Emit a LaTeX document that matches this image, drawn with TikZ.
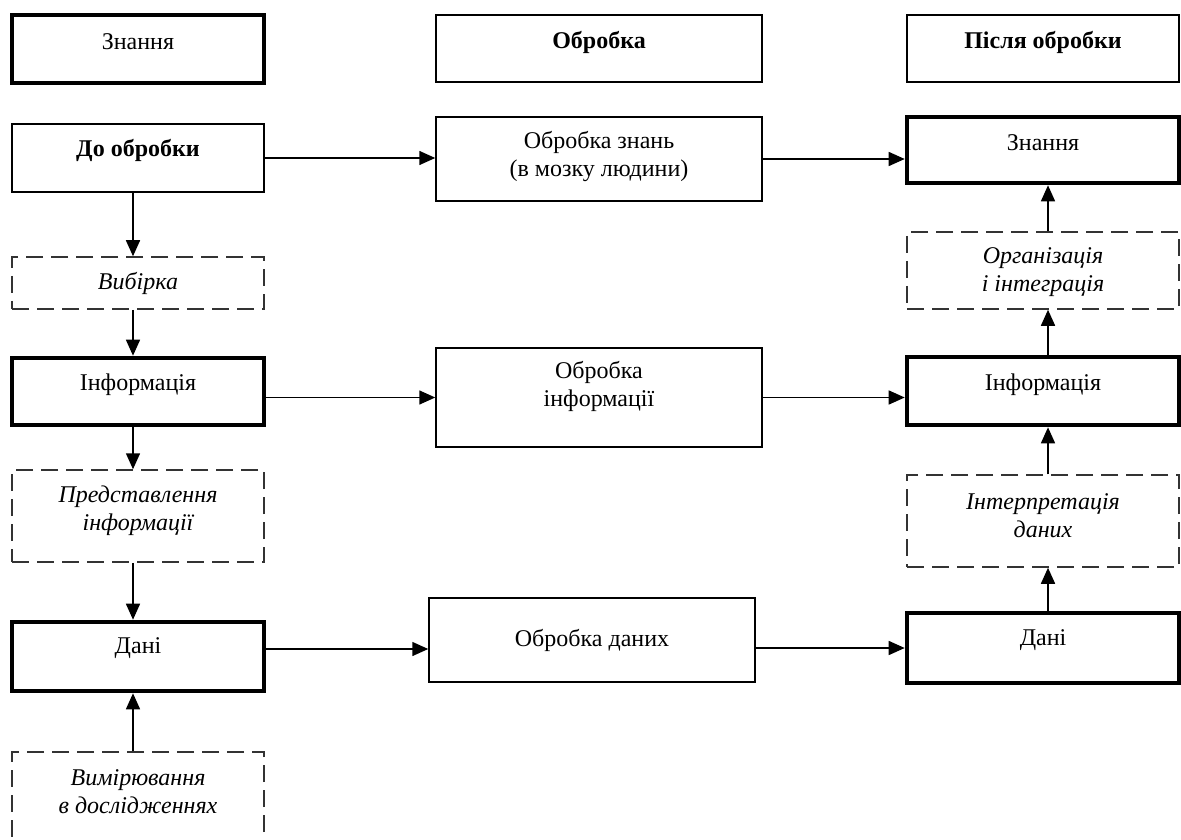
\documentclass[tikz,border=0pt]{standalone}
\usepackage{fontspec}
\setmainfont{Liberation Serif}
\usetikzlibrary{arrows.meta,fit,calc}
\begin{document}
\begin{tikzpicture}[x=0.5pt,y=-0.5pt,
  plainbox/.style={draw,line width=0.75pt,inner sep=0pt},
  heavybox/.style={draw,line width=2.3pt,inner sep=0pt},
  dashbox/.style={draw=black!80,line width=0.75pt,dash pattern=on 8.5pt off 4pt,inner sep=0pt},
  txt/.style={inner sep=0pt,align=center,font=\fontsize{12}{14}\selectfont},
  arr/.style={line width=0.75pt,-{Triangle[length=8pt,width=7pt]}}]
\clip (0,0) rectangle (1181,839);
\fill[white] (0,0) rectangle (1181,839);
% headers
\node[heavybox,fit={(12,15) (264,83)}] (h1) {};
\node[txt] (t h1) at (138,42) {Знання};
\node[plainbox,fit={(436,15) (762,82)}] (h2) {};
\node[txt,font=\fontsize{12}{14}\selectfont\bfseries] (t h2) at (599,42) {Обробка};
\node[plainbox,fit={(907,15) (1179,82)}] (h3) {};
\node[txt,font=\fontsize{12}{14}\selectfont\bfseries] (t h3) at (1043,42) {Після обробки};
% left column
\node[plainbox,fit={(12,124) (264,192)}] (l1) {};
\node[txt,font=\fontsize{12}{14}\selectfont\bfseries] (t l1) at (138,150) {До обробки};
\node[dashbox,fit={(12,257) (264,309)}] (l2) {};
\node[txt,font=\fontsize{12}{14}\selectfont\itshape] (t l2) at (138,283) {Вибірка};
\node[heavybox,fit={(12,358) (264,425)}] (l3) {};
\node[txt] (t l3) at (138,385) {Інформація};
\node[dashbox,fit={(12,470) (264,562)}] (l4) {};
\node[txt,font=\fontsize{12}{14}\selectfont\itshape] (t l4) at (138,511) {Представлення\\інформації};
\node[heavybox,fit={(12,622) (264,691)}] (l5) {};
\node[txt] (t l5) at (138,648) {Дані};
\node[dashbox,fit={(12,752) (264,880)}] (l6) {};
\node[txt,font=\fontsize{12}{14}\selectfont\itshape] (t l6) at (138,792) {Вимірювання\\в дослідженнях};
% middle column
\node[plainbox,fit={(436,117) (762,201)}] (m1) {};
\node[txt] (t m1) at (599,157) {Обробка знань\\(в мозку людини)};
\node[plainbox,fit={(436,348) (762,447)}] (m2) {};
\node[txt] (t m2) at (599,386) {Обробка\\інформації};
\node[plainbox,fit={(429,598) (755,682)}] (m3) {};
\node[txt] (t m3) at (592,640) {Обробка даних};
% right column
\node[heavybox,fit={(907,117) (1179,183)}] (r1) {};
\node[txt] (t r1) at (1043,143) {Знання};
\node[dashbox,fit={(907,232) (1179,309)}] (r2) {};
\node[txt,font=\fontsize{12}{14}\selectfont\itshape] (t r2) at (1043,272) {Організація\\і інтеграція};
\node[heavybox,fit={(907,357) (1179,425)}] (r3) {};
\node[txt] (t r3) at (1043,385) {Інформація};
\node[dashbox,fit={(907,475) (1179,567)}] (r4) {};
\node[txt,font=\fontsize{12}{14}\selectfont\itshape] (t r4) at (1043,516) {Інтерпретація\\даних};
\node[heavybox,fit={(907,613) (1179,683)}] (r5) {};
\node[txt] (t r5) at (1043,640) {Дані};
% horizontal arrows
\draw[arr] (l1.east) -- (l1.east -| m1.west);
\draw[arr] (m1.east) -- (m1.east -| r1.west);
\draw[arr] (m2.west -| l3.east) -- (m2.west);
\draw[arr] (m2.east) -- (m2.east -| r3.west);
\draw[arr] ($(l5.east)+(0,-7.5)$) -- ($(l5.east -| m3.west)+(0,-7.5)$);
\draw[arr] (r5.west -| m3.east) -- (r5.west);
% left vertical arrows
\draw[arr] ($(l1.south)+(-5,0)$) -- ($(l2.north)+(-5,0)$);
\draw[arr] ($(l2.south)+(-5,0)$) -- ($(l3.north)+(-5,0)$);
\draw[arr] ($(l3.south)+(-5,0)$) -- ($(l4.north)+(-5,0)$);
\draw[arr] ($(l4.south)+(-5,0)$) -- ($(l5.north)+(-5,0)$);
\draw[arr] ($(l6.north)+(-5,0)$) -- ($(l5.south)+(-5,0)$);
% right vertical arrows
\draw[arr] ($(r2.north)+(5,0)$) -- ($(r1.south)+(5,0)$);
\draw[arr] ($(r3.north)+(5,0)$) -- ($(r2.south)+(5,0)$);
\draw[arr] ($(r4.north)+(5,0)$) -- ($(r3.south)+(5,0)$);
\draw[arr] ($(r5.north)+(5,0)$) -- ($(r4.south)+(5,0)$);
\end{tikzpicture}
\end{document}
